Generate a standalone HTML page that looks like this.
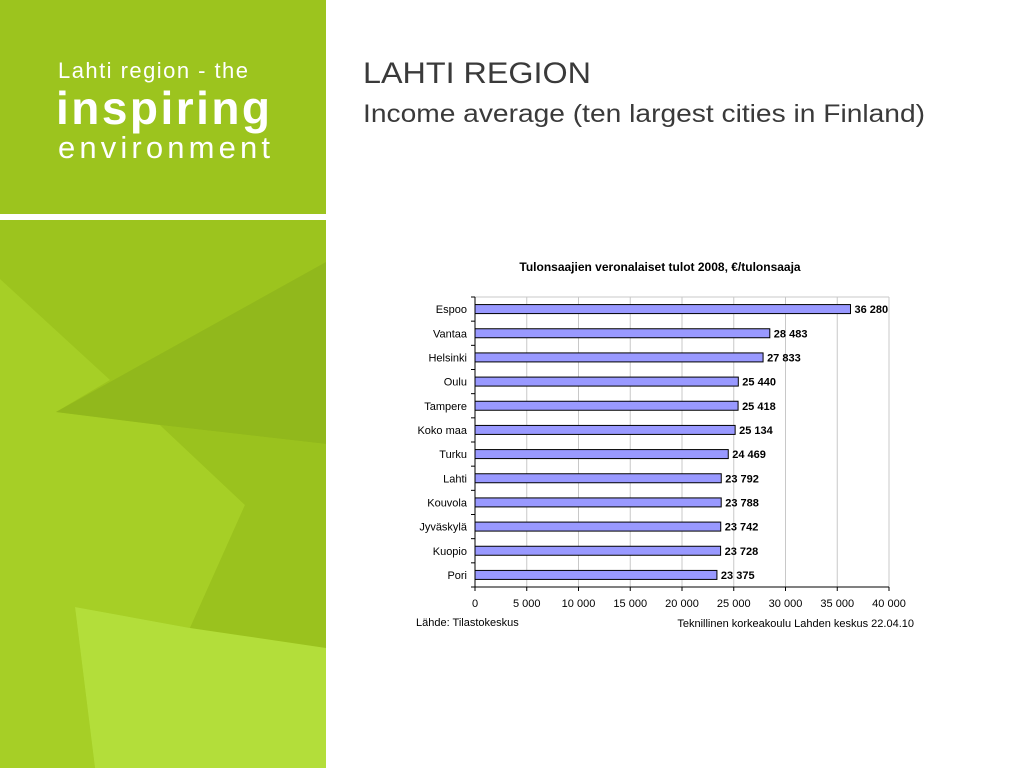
<!DOCTYPE html>
<html><head><meta charset="utf-8"><style>
body{margin:0;width:1024px;height:768px;overflow:hidden;background:#fff;font-family:"Liberation Sans",sans-serif;position:relative}
#side{position:absolute;left:0;top:0;width:326px;height:768px}
</style></head><body>
<svg id="side" width="326" height="768">
<rect width="326" height="768" fill="#9cc41e"/>
<polygon points="0,279 110,380 56,412 160,425 245,505 190,628 75,607 95,768 0,768" fill="#a6cf26"/>
<polygon points="56,412 326,262 326,444 160,425" fill="#91b81c"/>
<polygon points="160,425 326,444 326,648 190,628 245,505" fill="#9ac21e"/>
<polygon points="75,607 190,628 326,648 326,768 95,768" fill="#b3de3a"/>
<rect x="0" y="214" width="326" height="6" fill="#fff"/>
<text x="58" y="78" font-family="Liberation Sans" font-size="22" fill="#fff" textLength="190">Lahti region - the</text>
<text x="56" y="124" font-family="Liberation Sans" font-weight="bold" font-size="46" fill="#fff" textLength="214">inspiring</text>
<text x="58" y="158" font-family="Liberation Sans" font-size="31" fill="#fff" textLength="212">environment</text>
</svg>
<svg width="1024" height="140" style="position:absolute;left:0;top:0" font-family="Liberation Sans">
<text x="363" y="83" font-size="30" fill="#3a3a3a" textLength="228" lengthAdjust="spacingAndGlyphs">LAHTI REGION</text>
<text x="363" y="122" font-size="25" fill="#3a3a3a" textLength="562" lengthAdjust="spacingAndGlyphs">Income average (ten largest cities in Finland)</text>
</svg>
<svg id="chart" width="1024" height="768" style="position:absolute;left:0;top:0" font-family="Liberation Sans"></svg>
<script>
const categories=["Espoo","Vantaa","Helsinki","Oulu","Tampere","Koko maa","Turku","Lahti","Kouvola","Jyväskylä","Kuopio","Pori"];
const values=[36280,28483,27833,25440,25418,25134,24469,23792,23788,23742,23728,23375];
const valueLabels=["36 280","28 483","27 833","25 440","25 418","25 134","24 469","23 792","23 788","23 742","23 728","23 375"];
const ticks=[0,5000,10000,15000,20000,25000,30000,35000,40000];
const tickLabels=["0","5 000","10 000","15 000","20 000","25 000","30 000","35 000","40 000"];
const svg=document.getElementById('chart');const NS='http://www.w3.org/2000/svg';
const X0=475,X1=889,Y0=297,Y1=587,xMax=40000;
const x=v=>X0+v/xMax*(X1-X0);
const band=(Y1-Y0)/categories.length;
const y=i=>Y0+band*(i+0.5);
function mk(t,a,txt){const e=document.createElementNS(NS,t);for(const k in a)e.setAttribute(k,a[k]);if(txt!=null)e.textContent=txt;svg.appendChild(e);return e;}
let e;
e=mk('text',{x:660,y:271,'text-anchor':'middle','font-size':12,'font-weight':'bold',fill:'#000'},'Tulonsaajien veronalaiset tulot 2008, €/tulonsaaja');


ticks.forEach((t,i)=>{
 if(t>0){e=mk('line',{x1:x(t),x2:x(t),y1:Y0,y2:Y1,stroke:'#c8c8c8'});
 
 }
 e=mk('line',{x1:x(t),x2:x(t),y1:Y1,y2:Y1+4,stroke:'#000'});
 
 
 e=mk('text',{x:x(t),y:Y1+20,'text-anchor':'middle','font-size':11,fill:'#000'},tickLabels[i]);
 
 
});
e=mk('line',{x1:X0,x2:X1,y1:Y0,y2:Y0,stroke:'#c8c8c8'});


for(let i=0;i<=categories.length;i++){
 e=mk('line',{x1:X0-4,x2:X0,y1:Y0+band*i,y2:Y0+band*i,stroke:'#000'});
 
 
}
categories.forEach((c,i)=>{
 e=mk('rect',{x:X0,y:y(i)-4.5,width:x(values[i])-X0,height:9,fill:'#9999ff',stroke:'#000','stroke-width':1});
 
 
 e=mk('text',{x:X0-8,y:y(i)+4,'text-anchor':'end','font-size':11,fill:'#000'},c);
 
 
 e=mk('text',{x:x(values[i])+4,y:y(i)+4,'font-size':11,'font-weight':'bold',fill:'#000'},valueLabels[i]);
 
 
});
e=mk('line',{x1:X0,x2:X0,y1:Y0,y2:Y1,stroke:'#000'});


e=mk('line',{x1:X0,x2:X1,y1:Y1,y2:Y1,stroke:'#000'});


e=mk('text',{x:416,y:626,'font-size':11,fill:'#000'},'Lähde: Tilastokeskus');


e=mk('text',{x:914,y:627,'text-anchor':'end','font-size':11,fill:'#000'},'Teknillinen korkeakoulu Lahden keskus 22.04.10');


</script>
</body></html>
